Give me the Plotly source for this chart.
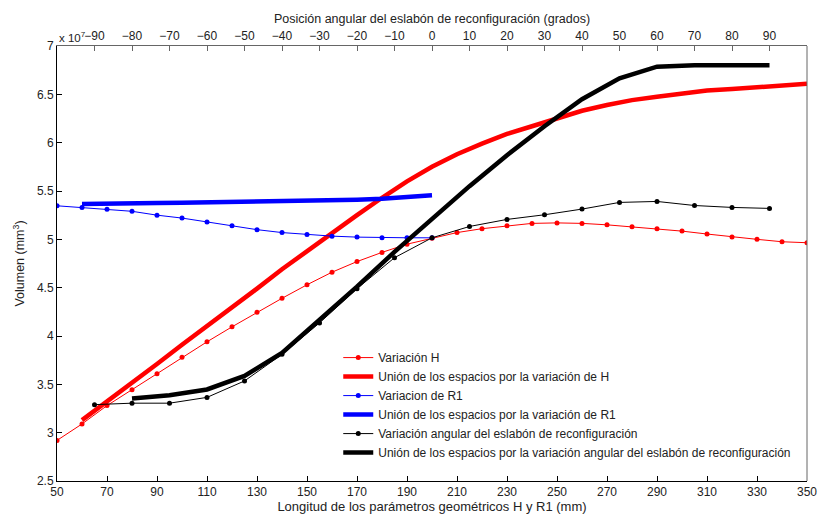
import plotly.graph_objects as go

# ---- data (volume in units of 1e7 mm^3) ----
x_h = list(range(50, 351, 10))
var_h = [2.92, 3.09, 3.28, 3.445, 3.61, 3.78, 3.94, 4.095, 4.245, 4.39, 4.53,
         4.66, 4.77, 4.865, 4.95, 5.01, 5.07, 5.11, 5.14, 5.165, 5.17, 5.165,
         5.15, 5.13, 5.11, 5.085, 5.055, 5.025, 5.00, 4.975, 4.965]

x_union_h = list(range(60, 351, 10))
union_h = [3.13, 3.32, 3.52, 3.71, 3.91, 4.10, 4.30, 4.49, 4.69, 4.88, 5.07,
           5.25, 5.43, 5.60, 5.75, 5.88, 5.99, 6.09, 6.17, 6.255, 6.33, 6.39,
           6.44, 6.475, 6.51, 6.54, 6.555, 6.575, 6.59, 6.61]

x_r1 = list(range(50, 201, 10))
var_r1 = [5.347, 5.33, 5.31, 5.29, 5.25, 5.22, 5.18, 5.14, 5.10, 5.07, 5.05,
          5.033, 5.023, 5.016, 5.016, 5.016]

x_union_r1 = list(range(60, 201, 10))
union_r1 = [5.365, 5.372, 5.375, 5.377, 5.378, 5.382, 5.385, 5.388, 5.39,
            5.398, 5.405, 5.41, 5.42, 5.435, 5.455]

ang = list(range(-90, 91, 10))
var_ang = [3.29, 3.305, 3.305, 3.365, 3.535, 3.81, 4.135, 4.49, 4.81, 5.016,
           5.133, 5.206, 5.254, 5.313, 5.382, 5.392, 5.35, 5.33, 5.32]

ang_union = list(range(-80, 91, 10))
union_ang = [3.353, 3.387, 3.447, 3.587, 3.825, 4.16, 4.51, 4.87, 5.21, 5.55,
             5.87, 6.17, 6.45, 6.666, 6.786, 6.80, 6.80, 6.80]

names = ["Variación H",
         "Unión de los espacios por la variación de H",
         "Variacion de R1",
         "Unión de los espacios por la variación de R1",
         "Variación angular del eslabón de reconfiguración",
         "Unión de los espacios por la variación angular del eslabón de reconfiguración"]

y_ticks = [2.5, 3, 3.5, 4, 4.5, 5, 5.5, 6, 6.5, 7]
x_ticks = list(range(50, 351, 20))
ang_ticks = list(range(-90, 91, 10))

FONT = "Arial, Liberation Sans, sans-serif"
TXT = "#222"

fig = go.Figure()
fig.add_trace(go.Scatter(x=x_h, y=var_h, name=names[0], mode="lines+markers",
                         line=dict(color="red", width=1), marker=dict(size=5, color="red")))
fig.add_trace(go.Scatter(x=x_union_h, y=union_h, name=names[1], mode="lines",
                         line=dict(color="red", width=4.5)))
fig.add_trace(go.Scatter(x=x_r1, y=var_r1, name=names[2], mode="lines+markers",
                         line=dict(color="blue", width=1), marker=dict(size=5, color="blue")))
fig.add_trace(go.Scatter(x=x_union_r1, y=union_r1, name=names[3], mode="lines",
                         line=dict(color="blue", width=4.5)))
fig.add_trace(go.Scatter(x=ang, y=var_ang, name=names[4], mode="lines+markers",
                         xaxis="x2", line=dict(color="black", width=1),
                         marker=dict(size=5, color="black")))
fig.add_trace(go.Scatter(x=ang_union, y=union_ang, name=names[5], mode="lines",
                         xaxis="x2", line=dict(color="black", width=4.5)))

fig.update_layout(
    width=819, height=514,
    margin=dict(l=57, r=12, t=46, b=33),
    paper_bgcolor="white", plot_bgcolor="white",
    font=dict(family=FONT, size=12, color=TXT),
    xaxis=dict(range=[50, 350], tickvals=x_ticks, showline=True, linecolor="black",
               linewidth=1, ticks="inside", ticklen=5, tickcolor="black",
               showgrid=False, zeroline=False, tickfont=dict(size=12), automargin=False,
               title=dict(text="Longitud de los parámetros geométricos H y R1 (mm)",
                          font=dict(size=13), standoff=0)),
    xaxis2=dict(overlaying="x", side="top", range=[-100, 100], tickvals=ang_ticks,
                showline=True, linecolor="#666", linewidth=1, ticks="inside",
                ticklen=5, tickcolor="#666", showgrid=False, zeroline=False,
                tickfont=dict(size=12), automargin=False,
                title=dict(text="Posición angular del eslabón de reconfiguración (grados)",
                           font=dict(size=12.5), standoff=2)),
    yaxis=dict(range=[2.5, 7], tickvals=y_ticks, showline=True, linecolor="black",
               linewidth=1, ticks="inside", ticklen=5, tickcolor="black",
               showgrid=False, zeroline=False, tickfont=dict(size=12), automargin=False,
               title=dict(text="Volumen (mm<sup>3</sup>)", font=dict(size=12.5), standoff=9)),
    legend=dict(x=0.375, y=0.032, xanchor="left", yanchor="bottom",
                bgcolor="white", borderwidth=0, font=dict(size=12),
                tracegroupgap=0, itemwidth=30),
    showlegend=True,
)

# right-hand border of the axes box
fig.add_shape(type="line", xref="paper", yref="paper", x0=1, x1=1, y0=0, y1=1,
              line=dict(color="#666", width=1), layer="above")

fig.add_annotation(text="x 10<sup>7</sup>", xref="paper", yref="paper", x=0, y=1.0,
                   xanchor="left", yanchor="bottom", showarrow=False,
                   font=dict(size=11.5, family=FONT, color=TXT))

post = """
document.documentElement.style.margin='0';
document.documentElement.style.overflow='hidden';
document.body.style.margin='0';
document.body.style.overflow='hidden';
var gd=document.getElementById('{plot_id}');
gd.style.position='fixed';gd.style.left='0px';gd.style.top='0px';
"""

fig.write_html("out.html", config={"displayModeBar": False}, post_script=post)
